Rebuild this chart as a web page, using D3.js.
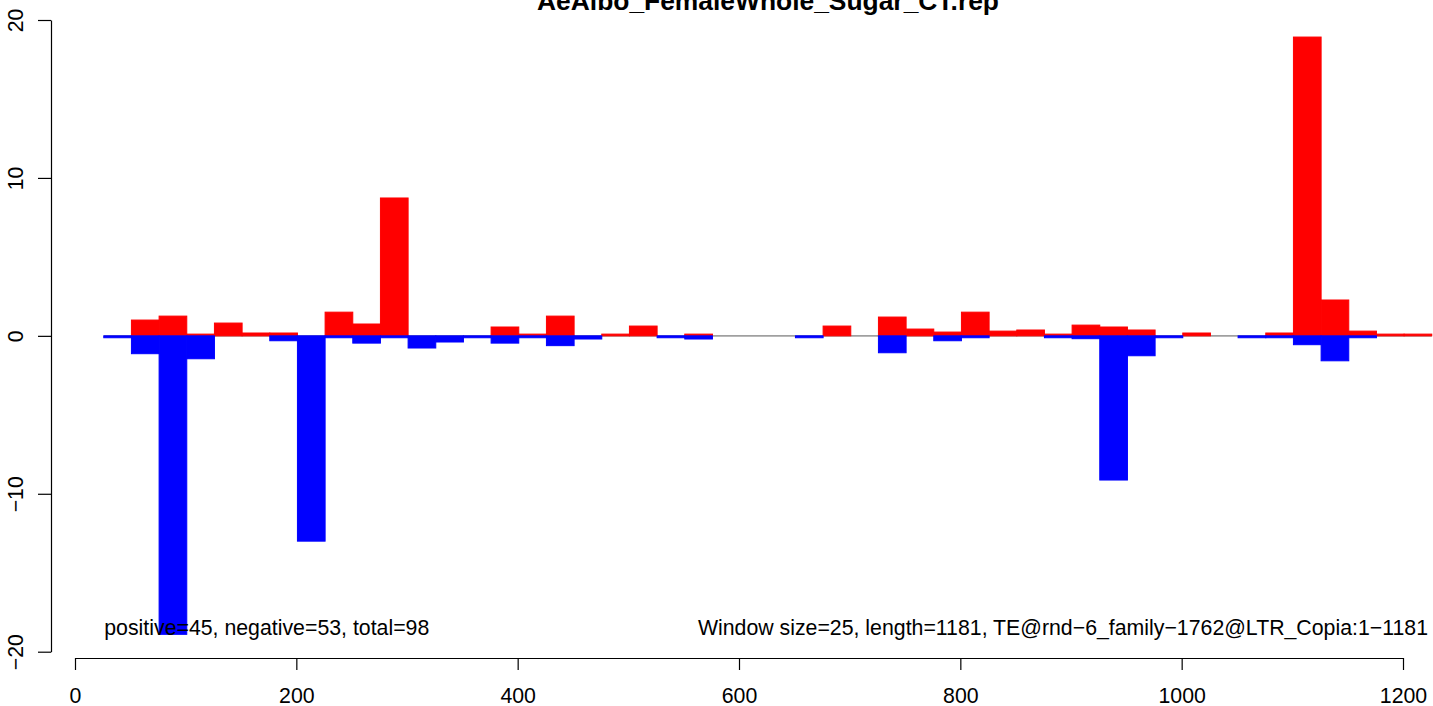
<!DOCTYPE html>
<html>
<head>
<meta charset="utf-8">
<script src="https://cdn.jsdelivr.net/npm/d3@7"></script>
<style>
  html, body { margin: 0; padding: 0; background: #fff; }
  svg { display: block; font-family: "Liberation Sans", Arial, Helvetica, sans-serif; }
</style>
</head>
<body>
<svg id="chart" width="1433" height="706"></svg>
<script>
// ---- data ----
const chartTitle = "AeAlbo_FemaleWhole_Sugar_CT.rep";
const leftNote = "positive=45, negative=53, total=98";
const rightNote = "Window size=25, length=1181, TE@rnd\u22126_family\u22121762@LTR_Copia:1\u22121181";
const windowSize = 25;
const windowStarts = [25, 50, 75, 100, 125, 150, 175, 200, 225, 250, 275, 300,
  325, 350, 375, 400, 425, 450, 475, 500, 525, 550, 575, 600,
  625, 650, 675, 700, 725, 750, 775, 800, 825, 850, 875, 900,
  925, 950, 975, 1000, 1025, 1050, 1075, 1100, 1125, 1150, 1175, 1200];
const positiveValues = [0, 1.0, 1.25, 0.11, 0.81, 0.18, 0.18, 0, 1.5, 0.75, 8.73, 0,
  0, 0, 0.56, 0.11, 1.25, 0, 0.11, 0.62, 0, 0.11, 0, 0,
  0, 0, 0.62, 0, 1.19, 0.43, 0.24, 1.5, 0.3, 0.37, 0.11, 0.68,
  0.56, 0.37, 0, 0.18, 0, 0, 0.18, 18.92, 2.27, 0.3, 0.11, 0.11];
const negativeValues = [-0.12, -1.13, -18.9, -1.45, 0, 0, -0.31, -13.0, -0.12, -0.46, -0.12, -0.77,
  -0.39, -0.12, -0.46, -0.12, -0.62, -0.2, 0, 0, -0.12, -0.2, 0, 0,
  0, -0.12, 0, 0, -1.07, 0, -0.31, -0.12, 0, 0, -0.12, -0.18,
  -9.13, -1.26, -0.12, 0, 0, -0.12, -0.12, -0.56, -1.58, -0.12, 0, 0];
const xTicks = [0, 200, 400, 600, 800, 1000, 1200];
const xTickLabels = ["0", "200", "400", "600", "800", "1000", "1200"];
const yTicks = [-20, -10, 0, 10, 20];
const yTickLabels = ["\u221220", "\u221210", "0", "10", "20"];

// ---- layout ----
const svg = d3.select("#chart");
const x = d3.scaleLinear().domain([0, 1200]).range([75, 1403]);
const y = d3.scaleLinear().domain([-20, 20]).range([651.7, 20]);
const fontSize = 21.3;

// zero line
svg.append("line")
  .attr("x1", x(windowStarts[0] + 1)).attr("x2", x(windowStarts[windowStarts.length - 1] + 1 + windowSize))
  .attr("y1", y(0)).attr("y2", y(0))
  .attr("stroke", "#a0a0a0").attr("stroke-width", 1.6);

const rows = windowStarts.map((s, i) => ({ s, p: positiveValues[i], n: negativeValues[i] }));

// positive bars
svg.append("g").selectAll("rect").data(rows.filter(d => d.p !== 0)).join("rect")
  .attr("x", d => x(d.s + 1))
  .attr("width", d => x(d.s + 1 + windowSize) - x(d.s + 1))
  .attr("y", d => y(d.p))
  .attr("height", d => y(0) - y(d.p))
  .attr("fill", "#ff0000").attr("stroke", "#ff0000").attr("stroke-width", 1);

// negative bars
svg.append("g").selectAll("rect").data(rows.filter(d => d.n !== 0)).join("rect")
  .attr("x", d => x(d.s + 1))
  .attr("width", d => x(d.s + 1 + windowSize) - x(d.s + 1))
  .attr("y", y(0))
  .attr("height", d => y(d.n) - y(0))
  .attr("fill", "#0000ff").attr("stroke", "#0000ff").attr("stroke-width", 1);

// axes
const xAxis = svg.append("g").attr("transform", "translate(0,658)")
  .call(d3.axisBottom(x).tickValues(xTicks).tickFormat((d, i) => xTickLabels[i]).tickSize(12).tickSizeOuter(0));
xAxis.selectAll("text").attr("y", 44.5).attr("dy", 0)
  .attr("font-size", fontSize).attr("fill", "#000").attr("font-family", "Liberation Sans, Arial, sans-serif");
xAxis.selectAll("line, path").attr("stroke", "#000").attr("stroke-width", 1.2);

const yAxis = svg.append("g").attr("transform", "translate(51,0)")
  .call(d3.axisLeft(y).tickValues(yTicks).tickFormat((d, i) => yTickLabels[i]).tickSize(13).tickSizeOuter(0));
yAxis.selectAll("text")
  .attr("x", null).attr("dy", 0).attr("text-anchor", "middle")
  .attr("transform", "translate(-28,0) rotate(-90)")
  .attr("font-size", fontSize).attr("fill", "#000").attr("font-family", "Liberation Sans, Arial, sans-serif");
yAxis.selectAll("line, path").attr("stroke", "#000").attr("stroke-width", 1.2);

// title
svg.append("text")
  .attr("x", 768).attr("y", 10)
  .attr("text-anchor", "middle")
  .attr("font-size", 26.4).attr("font-weight", "bold").attr("fill", "#000")
  .text(chartTitle);

// notes
svg.append("text")
  .attr("x", x(windowStarts[0] + 1) + 0.5).attr("y", 635)
  .attr("font-size", fontSize).attr("fill", "#000")
  .text(leftNote);
svg.append("text")
  .attr("x", 1428).attr("y", 635)
  .attr("text-anchor", "end")
  .attr("font-size", fontSize).attr("fill", "#000")
  .text(rightNote);
</script>
</body>
</html>
